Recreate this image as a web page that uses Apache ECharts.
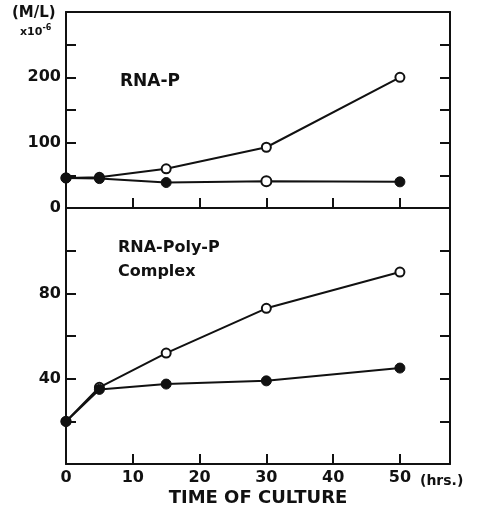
<!DOCTYPE html>
<html>
<head>
<meta charset="utf-8">
<script src="https://cdn.jsdelivr.net/npm/echarts@6/dist/echarts.min.js"></script>
<style>html,body{margin:0;padding:0;background:#fff;}#c{width:480px;height:514px;}</style>
</head>
<body>
<div id="c"></div>
<script>
const hours = [0, 5, 15, 30, 50];
const rnaPOpen = [46, 47, 60, 93, 200];
const rnaPFilled = [46, 45, 39, 41, 40];
const complexOpen = [20, 36, 52, 73, 90];
const complexFilled = [20, 35, 37.5, 39, 45];
const topYLabels = [0, 100, 200];
const bottomYLabels = [40, 80];
const xLabels = [0, 10, 20, 30, 40, 50];

const FONT = 'DejaVu Sans';
const INK = '#111';

function pairs(xs, ys) { return xs.map((x, i) => [x, ys[i]]); }

const chart = echarts.init(document.getElementById('c'));

const grids = [
  { left: 66, right: 30, top: 12, height: 196 },
  { left: 66, right: 30, top: 208, height: 258 }
];

function xAxisBase(gi, pos, ticks, labels) {
  return {
    type: 'value', gridIndex: gi, position: pos, min: 0, max: 57.5, interval: 10,
    axisLine: { show: true, onZero: false, lineStyle: { color: INK, width: 2 } },
    axisTick: { show: ticks, inside: true, length: 10, lineStyle: { color: INK, width: 2 } },
    axisLabel: labels ? {
      show: true, color: INK, fontFamily: FONT, fontWeight: 'bold', fontSize: 16, margin: 6,
      formatter: v => xLabels.indexOf(v) >= 0 ? String(v) : ''
    } : { show: false },
    splitLine: { show: false }
  };
}

function yAxisBase(gi, pos, max, interval, labelList) {
  return {
    type: 'value', gridIndex: gi, position: pos, min: 0, max: max, interval: interval,
    axisLine: { show: true, onZero: false, lineStyle: { color: INK, width: 2 } },
    axisTick: { show: true, inside: true, length: 10, lineStyle: { color: INK, width: 2 } },
    axisLabel: labelList ? {
      show: true, color: INK, fontFamily: FONT, fontWeight: 'bold', fontSize: 16, margin: 5,
      formatter: v => labelList.indexOf(v) >= 0 ? String(v) : ''
    } : { show: false },
    splitLine: { show: false }
  };
}

const bottomX = xAxisBase(1, 'bottom', true, true);
bottomX.name = 'TIME OF CULTURE';
bottomX.nameLocation = 'middle';
bottomX.nameGap = 25;
bottomX.nameTextStyle = { color: INK, fontFamily: FONT, fontWeight: 'bold', fontSize: 18 };

const openStyle = { color: '#fff', borderColor: INK, borderWidth: 2 };
const filledStyle = { color: INK, borderColor: INK, borderWidth: 1 };

function lineSeries(xi, yi, data, open, size) {
  return {
    type: 'line', xAxisIndex: xi, yAxisIndex: yi, data: data,
    symbol: 'circle', symbolSize: size, showSymbol: true,
    lineStyle: { color: INK, width: 2 },
    itemStyle: open ? openStyle : filledStyle,
    emphasis: { disabled: true }, silent: true, animation: false, z: open ? 3 : 4
  };
}

const topFilledData = pairs(hours, rnaPFilled).map((p, i) =>
  hours[i] === 30 ? { value: p, itemStyle: openStyle } : p);

chart.setOption({
  animation: false,
  grid: grids,
  xAxis: [
    xAxisBase(0, 'bottom', true, false),
    xAxisBase(0, 'top', false, false),
    bottomX
  ],
  yAxis: [
    yAxisBase(0, 'left', 300, 50, topYLabels),
    yAxisBase(0, 'right', 300, 50, null),
    yAxisBase(1, 'left', 120, 20, bottomYLabels),
    yAxisBase(1, 'right', 120, 20, null)
  ],
  series: [
    lineSeries(0, 0, pairs(hours, rnaPOpen), true, 9),
    lineSeries(0, 0, topFilledData, false, 10),
    lineSeries(2, 2, pairs(hours, complexOpen), true, 9),
    lineSeries(2, 2, pairs(hours, complexFilled), false, 10)
  ],
  graphic: [
    { type: 'text', left: 12, top: 6, style: { text: '(M/L)', fill: INK, font: 'bold 15px "DejaVu Sans"' } },
    { type: 'text', left: 20, top: 24, style: {
        text: '{a|x10}{b|-6}', fill: INK,
        rich: {
          a: { fontFamily: FONT, fontWeight: 'bold', fontSize: 11, fill: INK, verticalAlign: 'bottom' },
          b: { fontFamily: FONT, fontWeight: 'bold', fontSize: 8, fill: INK, verticalAlign: 'top', padding: [0, 0, 6, 0] }
        } } },
    { type: 'text', left: 120, top: 73, style: { text: 'RNA-P', fill: INK, font: 'bold 17px "DejaVu Sans"' } },
    { type: 'text', left: 118, top: 240, style: { text: 'RNA-Poly-P', fill: INK, font: 'bold 16px "DejaVu Sans"' } },
    { type: 'text', left: 118, top: 264, style: { text: 'Complex', fill: INK, font: 'bold 16px "DejaVu Sans"' } },
    { type: 'text', left: 420, top: 474, style: { text: '(hrs.)', fill: INK, font: 'bold 14px "DejaVu Sans"' } }
  ]
});
</script>
</body>
</html>
